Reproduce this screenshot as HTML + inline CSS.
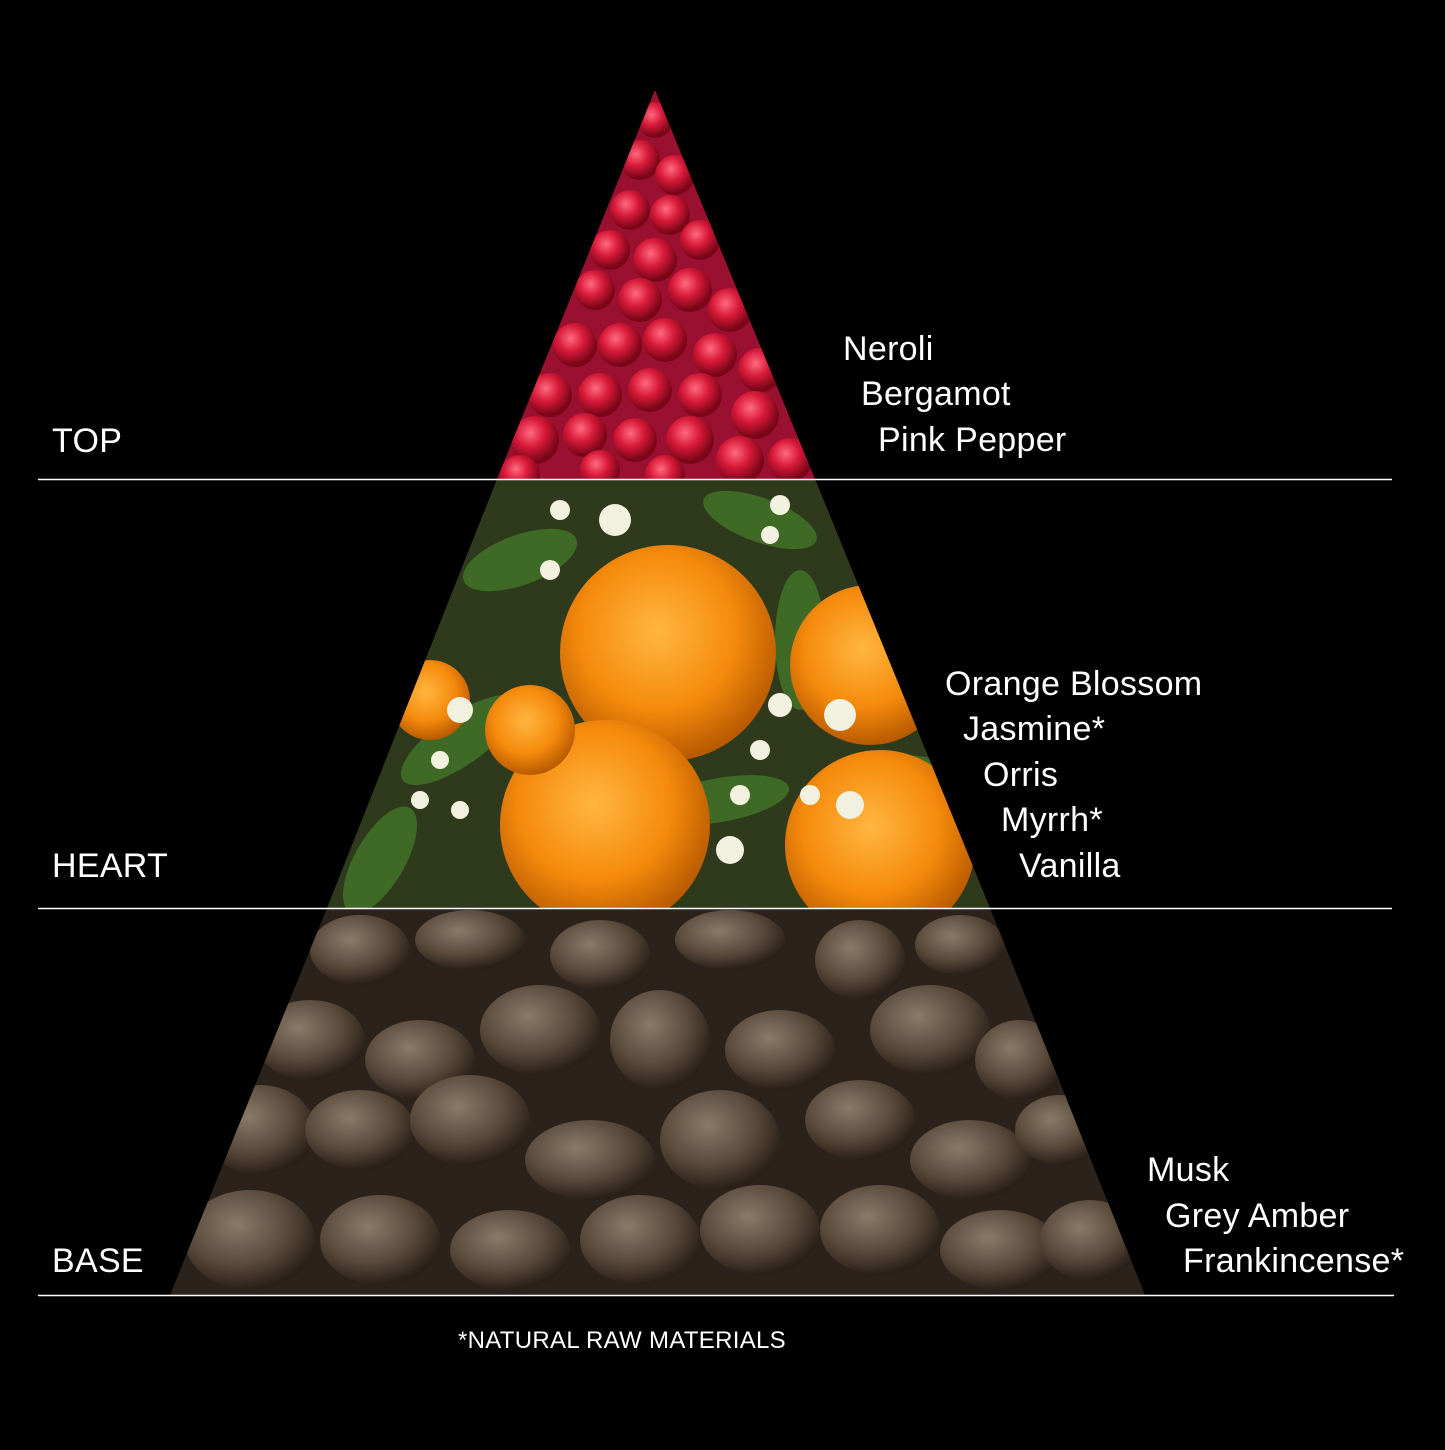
<!DOCTYPE html>
<html><head><meta charset="utf-8">
<style>
html,body{margin:0;padding:0;background:#000;}
body{width:1445px;height:1445px;overflow:hidden;}
svg text{font-family:"Liberation Sans",sans-serif;fill:#fff;}
</style></head>
<body>
<svg width="1445" height="1445" viewBox="0 0 1445 1445" xmlns="http://www.w3.org/2000/svg">
<defs>
<clipPath id="ct"><polygon points="655,90 815,479 497,479"/></clipPath>
<clipPath id="ch"><polygon points="497,479 815,479 990,908 327,908"/></clipPath>
<clipPath id="cb"><polygon points="327,908 990,908 1145,1295 170,1295"/></clipPath>
<radialGradient id="berry" cx="40%" cy="35%" r="60%"><stop offset="0" stop-color="#ff6a80"/><stop offset="0.5" stop-color="#d81a3a"/><stop offset="1" stop-color="#7a0618"/></radialGradient>
<radialGradient id="orange" cx="45%" cy="40%" r="60%"><stop offset="0" stop-color="#ffb640"/><stop offset="0.6" stop-color="#f58a0c"/><stop offset="1" stop-color="#b85a00"/></radialGradient>
<radialGradient id="seed" cx="40%" cy="35%" r="65%"><stop offset="0" stop-color="#8a7a68"/><stop offset="0.6" stop-color="#5a4a3c"/><stop offset="1" stop-color="#2a2018"/></radialGradient>
</defs>

<g clip-path="url(#ct)">
<rect x="490" y="85" width="330" height="400" fill="#9a1030"/>
<g fill="url(#berry)">
<circle cx="655" cy="120" r="18"/><circle cx="640" cy="160" r="20"/><circle cx="675" cy="175" r="20"/>
<circle cx="630" cy="210" r="20"/><circle cx="670" cy="215" r="20"/><circle cx="700" cy="240" r="20"/>
<circle cx="610" cy="250" r="20"/><circle cx="655" cy="260" r="22"/><circle cx="595" cy="290" r="20"/>
<circle cx="640" cy="300" r="22"/><circle cx="690" cy="290" r="22"/><circle cx="730" cy="310" r="22"/>
<circle cx="575" cy="345" r="22"/><circle cx="620" cy="345" r="22"/><circle cx="665" cy="340" r="22"/>
<circle cx="715" cy="355" r="22"/><circle cx="760" cy="370" r="22"/><circle cx="550" cy="395" r="22"/>
<circle cx="600" cy="395" r="22"/><circle cx="650" cy="390" r="22"/><circle cx="700" cy="395" r="22"/>
<circle cx="755" cy="415" r="24"/><circle cx="535" cy="440" r="24"/><circle cx="585" cy="435" r="22"/>
<circle cx="635" cy="440" r="22"/><circle cx="690" cy="440" r="24"/><circle cx="740" cy="460" r="24"/>
<circle cx="790" cy="460" r="22"/><circle cx="520" cy="475" r="20"/><circle cx="600" cy="470" r="20"/><circle cx="665" cy="475" r="20"/>
</g>
</g>

<g clip-path="url(#ch)">
<rect x="320" y="479" width="680" height="430" fill="#2f3a1c"/>
<g fill="#3f6a26">
<ellipse cx="520" cy="560" rx="60" ry="25" transform="rotate(-20 520 560)"/>
<ellipse cx="760" cy="520" rx="60" ry="22" transform="rotate(20 760 520)"/>
<ellipse cx="460" cy="740" rx="70" ry="25" transform="rotate(-35 460 740)"/>
<ellipse cx="800" cy="640" rx="25" ry="70"/>
<ellipse cx="720" cy="800" rx="70" ry="22" transform="rotate(-10 720 800)"/>
<ellipse cx="380" cy="860" rx="60" ry="25" transform="rotate(-60 380 860)"/>
<ellipse cx="900" cy="770" rx="50" ry="15"/>
</g>
<g fill="url(#orange)">
<circle cx="668" cy="653" r="108"/>
<circle cx="870" cy="665" r="80"/>
<circle cx="605" cy="825" r="105"/>
<circle cx="880" cy="845" r="95"/>
<circle cx="530" cy="730" r="45"/>
<circle cx="430" cy="700" r="40"/>
</g>
<g fill="#f2f0de">
<circle cx="615" cy="520" r="16"/><circle cx="560" cy="510" r="10"/><circle cx="550" cy="570" r="10"/>
<circle cx="780" cy="505" r="10"/><circle cx="770" cy="535" r="9"/>
<circle cx="460" cy="710" r="13"/><circle cx="440" cy="760" r="9"/><circle cx="420" cy="800" r="9"/><circle cx="460" cy="810" r="9"/>
<circle cx="840" cy="715" r="16"/><circle cx="780" cy="705" r="12"/><circle cx="760" cy="750" r="10"/>
<circle cx="850" cy="805" r="14"/><circle cx="810" cy="795" r="10"/><circle cx="730" cy="850" r="14"/><circle cx="740" cy="795" r="10"/>
</g>
</g>

<g clip-path="url(#cb)">
<rect x="160" y="908" width="1000" height="390" fill="#2a221b"/>
<g fill="url(#seed)">
<ellipse cx="360" cy="950" rx="50" ry="35"/><ellipse cx="470" cy="940" rx="55" ry="30"/><ellipse cx="600" cy="955" rx="50" ry="35"/>
<ellipse cx="730" cy="940" rx="55" ry="30"/><ellipse cx="860" cy="960" rx="45" ry="40"/><ellipse cx="960" cy="945" rx="45" ry="30"/>
<ellipse cx="310" cy="1040" rx="55" ry="40"/><ellipse cx="420" cy="1060" rx="55" ry="40"/><ellipse cx="540" cy="1030" rx="60" ry="45"/>
<ellipse cx="660" cy="1040" rx="50" ry="50"/><ellipse cx="780" cy="1050" rx="55" ry="40"/><ellipse cx="930" cy="1030" rx="60" ry="45"/>
<ellipse cx="1020" cy="1060" rx="45" ry="40"/>
<ellipse cx="260" cy="1130" rx="55" ry="45"/><ellipse cx="360" cy="1130" rx="55" ry="40"/><ellipse cx="470" cy="1120" rx="60" ry="45"/>
<ellipse cx="590" cy="1160" rx="65" ry="40"/><ellipse cx="720" cy="1140" rx="60" ry="50"/><ellipse cx="860" cy="1120" rx="55" ry="40"/>
<ellipse cx="970" cy="1160" rx="60" ry="40"/><ellipse cx="1060" cy="1130" rx="45" ry="35"/>
<ellipse cx="250" cy="1240" rx="65" ry="50"/><ellipse cx="380" cy="1240" rx="60" ry="45"/><ellipse cx="510" cy="1250" rx="60" ry="40"/>
<ellipse cx="640" cy="1240" rx="60" ry="45"/><ellipse cx="760" cy="1230" rx="60" ry="45"/><ellipse cx="880" cy="1230" rx="60" ry="45"/>
<ellipse cx="1000" cy="1250" rx="60" ry="40"/><ellipse cx="1090" cy="1240" rx="50" ry="40"/>
</g>
</g>

<g stroke="#ffffff" stroke-width="1.5">
<line x1="38" y1="479.5" x2="1392" y2="479.5"/>
<line x1="38" y1="908.5" x2="1392" y2="908.5"/>
<line x1="38" y1="1295.5" x2="1394" y2="1295.5"/>
</g>

<g font-size="34" letter-spacing="0.3">
<text x="52" y="452">TOP</text>
<text x="52" y="877">HEART</text>
<text x="52" y="1272">BASE</text>
<text x="843" y="360">Neroli</text>
<text x="861" y="405">Bergamot</text>
<text x="878" y="451">Pink Pepper</text>
<text x="945" y="695">Orange Blossom</text>
<text x="963" y="740">Jasmine*</text>
<text x="983" y="786">Orris</text>
<text x="1001" y="831">Myrrh*</text>
<text x="1019" y="877">Vanilla</text>
<text x="1147" y="1181">Musk</text>
<text x="1165" y="1227">Grey Amber</text>
<text x="1183" y="1272">Frankincense*</text>
</g>
<text x="458" y="1348" font-size="24" letter-spacing="0.3">*NATURAL RAW MATERIALS</text>
</svg>
</body></html>
